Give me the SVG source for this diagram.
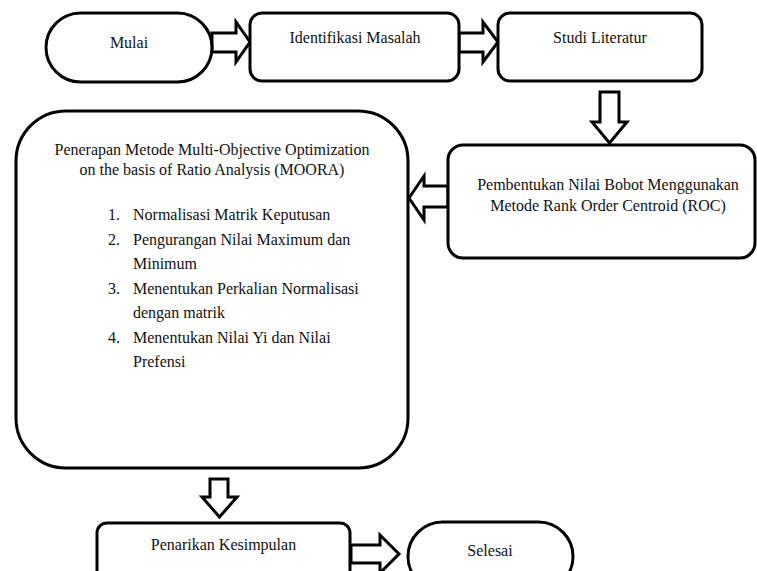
<svg xmlns="http://www.w3.org/2000/svg" width="757" height="571" viewBox="0 0 757 571">
<style>
.box{fill:#fff;stroke:#000;stroke-width:3}
.arr{fill:#fff;stroke:#000;stroke-width:3;stroke-linejoin:miter}
text{font-family:"Liberation Serif","Times New Roman",serif;font-size:16px;fill:#111}
.c{text-anchor:middle}
</style>
<g id="connectors">
<polygon class="arr" points="212,33 236,33 236,22 250,42 236,62 236,52 212,52"/>
<polygon class="arr" points="459,33 483,33 483,22 498,42 483,62 483,52 459,52"/>
<polygon class="arr" points="600,92 619,92 619,122 627,122 609.5,143 592,122 600,122"/>
<polygon class="arr" points="448,186 424,186 424,176 409,198 424,220 424,207 448,207"/>
<polygon class="arr" points="210,479 228,479 228,497 237,497 219.5,517 202,497 210,497"/>
<polygon class="arr" points="351,545 380,545 380,535 399,554 380,573 380,563 351,563"/>
</g>
<g id="mulai">
<rect class="box" x="46" y="13" width="166" height="69" rx="34.5"/>
<text class="c" x="129" y="48">Mulai</text>
</g>
<g id="identifikasi">
<rect class="box" x="250" y="13" width="209" height="68" rx="12"/>
<text class="c" x="355" y="43">Identifikasi Masalah</text>
</g>
<g id="studi">
<rect class="box" x="498" y="13" width="204" height="68" rx="12"/>
<text class="c" x="600" y="43">Studi Literatur</text>
</g>
<g id="roc">
<rect class="box" x="448" y="145" width="307" height="113" rx="15"/>
<text class="c" x="608" y="190">Pembentukan Nilai Bobot Menggunakan</text>
<text class="c" x="608" y="211">Metode Rank Order Centroid (ROC)</text>
</g>
<g id="moora">
<rect class="box" x="16" y="111" width="392" height="357" rx="50"/>
<text class="c" x="212" y="155">Penerapan Metode Multi-Objective Optimization</text>
<text class="c" x="212" y="175">on the basis of Ratio Analysis (MOORA)</text>
<text x="108" y="220">1.</text><text x="133" y="220">Normalisasi Matrik Keputusan</text>
<text x="108" y="245">2.</text><text x="133" y="245">Pengurangan Nilai Maximum dan</text>
<text x="133" y="269">Minimum</text>
<text x="108" y="294">3.</text><text x="133" y="294">Menentukan Perkalian Normalisasi</text>
<text x="133" y="318">dengan matrik</text>
<text x="108" y="343">4.</text><text x="133" y="343">Menentukan Nilai Yi dan Nilai</text>
<text x="133" y="367">Prefensi</text>
</g>
<g id="penarikan">
<rect class="box" x="97" y="523" width="253" height="80" rx="10"/>
<text class="c" x="223.5" y="550">Penarikan Kesimpulan</text>
</g>
<g id="selesai">
<rect class="box" x="408" y="522" width="165" height="69" rx="34.5"/>
<text class="c" x="490" y="556">Selesai</text>
</g>
</svg>
